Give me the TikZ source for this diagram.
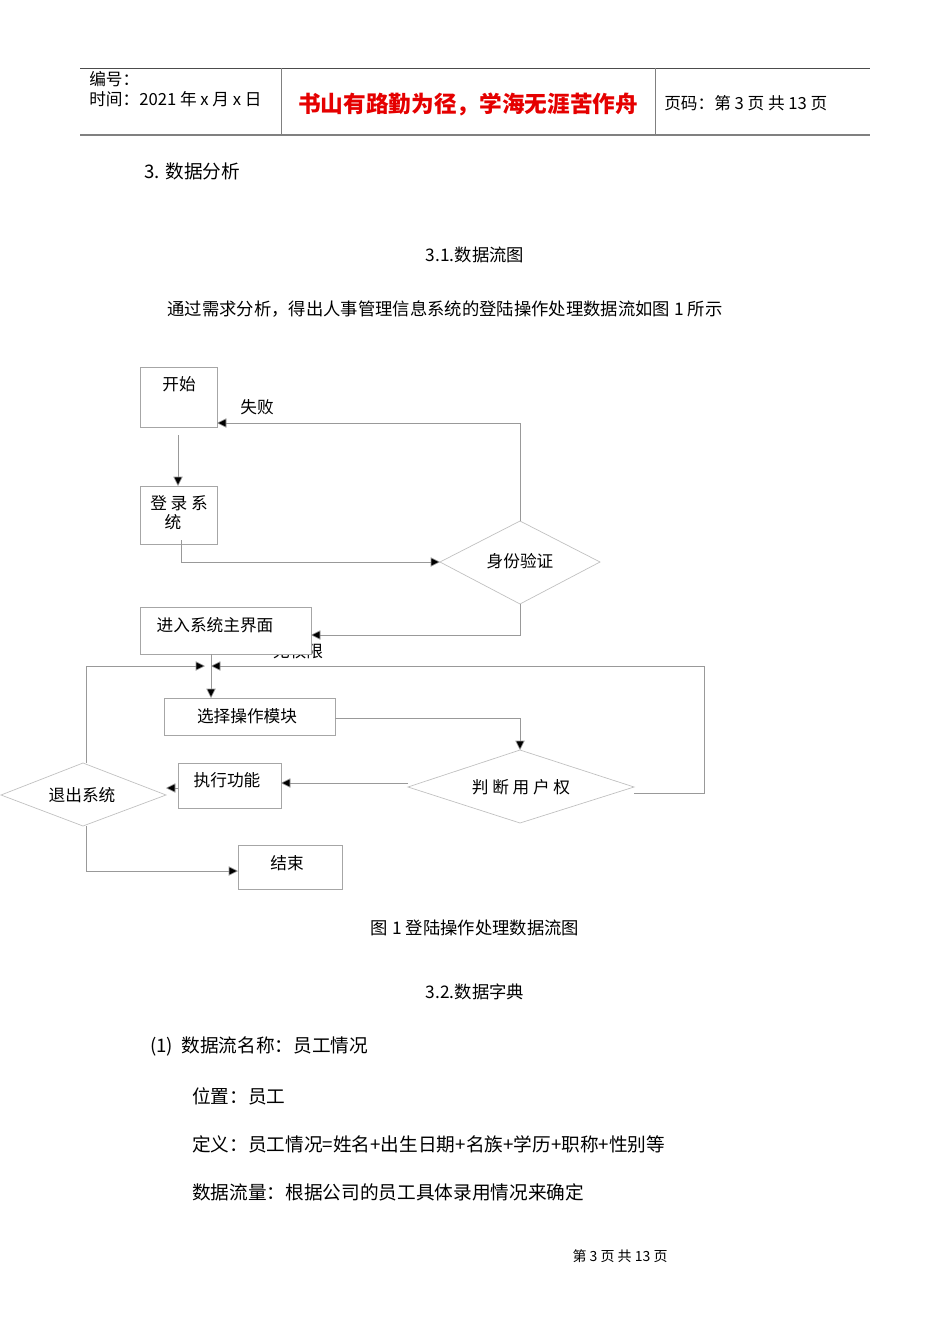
\documentclass[tikz,border=0pt]{standalone}
\usepackage{fontspec}
\setmainfont{Noto Sans CJK SC}
\usetikzlibrary{arrows.meta}
\begin{document}
\begin{tikzpicture}[x=0.75pt,y=-0.75pt,
  box/.style={draw=black!35,fill=white,line width=0.6pt},
  dia/.style={draw=black!25,fill=white,line width=0.5pt},
  con/.style={draw=black!40,line width=0.5pt},
  arr/.style={con,-{Triangle[length=7pt,width=7pt,fill=black]}},
  lbl/.style={font=\fontsize{12.5}{14}\selectfont,inner sep=0pt},
  hl/.style={font=\fontsize{12.5}{14}\selectfont,inner sep=0pt,anchor=west},
  sub/.style={font=\fontsize{13}{15}\selectfont,inner sep=0pt},
  txt/.style={font=\fontsize{14}{16}\selectfont,inner sep=0pt,anchor=west}]
\useasboundingbox[fill=white] (0,0) rectangle (950,1344);
% header
\draw[black!70,line width=0.6pt] (80,68) -- (870,68);
\draw[black!50,line width=1.2pt] (80,135) -- (870,135);
\draw[black!50,line width=0.5pt] (281,68) -- (281,135) (655,68) -- (655,135);
\node[hl] (h1) at (89,79) {编号：};
\node[hl] (h2) at (89,99) {时间：2021 年 x 月 x 日};
\node[font=\fontsize{17}{19}\selectfont\bfseries,text=red!90!black,inner sep=0pt] (h3) at (468,104) {书山有路勤为径，学海无涯苦作舟};
\node[hl] (h4) at (664,103) {页码：第 3 页 共 13 页};
% texts
\node[txt] (t1) at (144,171) {3. 数据分析};
\node[sub] (t2) at (475,255) {3.1.数据流图};
\node[sub] (t3) at (445,309) {通过需求分析，得出人事管理信息系统的登陆操作处理数据流如图 1 所示};
\node[sub] (t4) at (475,928) {图 1 登陆操作处理数据流图};
\node[sub] (t5) at (475,992) {3.2.数据字典};
\node[txt] (d1) at (150,1046) {(1)\ \ 数据流名称：员工情况};
\node[txt] (d2) at (192,1096) {位置：员工};
\node[txt] (d3) at (192,1144) {定义：员工情况=姓名+出生日期+名族+学历+职称+性别等};
\node[txt] (d4) at (192,1192) {数据流量：根据公司的员工具体录用情况来确定};
\node[font=\fontsize{10.5}{12}\selectfont,inner sep=0pt] (ft) at (620,1256) {第\ 3\ 页\ 共\ 13\ 页};
% flowchart labels under boxes
\node[lbl] (nq) at (298,651) {无权限};
% shapes
\draw[box] (140,367) rectangle (217,427); \node[lbl] (start) at (179,384) {开始};
\coordinate (startR) at (217,423); \coordinate (startB) at (178,435);
\draw[box] (140,486) rectangle (217,544);
\node[lbl] (login) at (179,503) {登\ 录\ 系};
\node[lbl] (login2) at (173,522) {统};
\coordinate (loginT) at (178,486); \coordinate (loginB) at (181,540);
\draw[dia] (440,562) -- (520,521) -- (600,562) -- (520,604) -- cycle;
\node[lbl] (auth) at (520,561) {身份验证};
\coordinate (authL) at (440,562); \coordinate (authT) at (520,521); \coordinate (authB) at (520,604);
\draw[box] (140,607) rectangle (311,654);
\node[lbl] (main) at (215,625) {进入系统主界面};
\coordinate (mainR) at (311,635); \coordinate (mainB) at (211,654);
\draw[box] (164,698) rectangle (335,735);
\node[lbl] (sel) at (247,716) {选择操作模块};
\coordinate (selT) at (211,698); \coordinate (selR) at (335,718);
\draw[dia] (408,787) -- (520,750) -- (634,787) -- (520,823) -- cycle;
\node[lbl] (judge) at (521,787) {判\ 断\ 用\ 户\ 权};
\coordinate (judT) at (520,750); \coordinate (judR) at (634,793); \coordinate (judL) at (408,783);
\draw[box] (178,763) rectangle (281,808);
\node[lbl] (exec) at (227,780) {执行功能};
\coordinate (execR) at (281,783); \coordinate (execL) at (178,788);
\draw[dia] (1,795) -- (83,763) -- (166,795) -- (83,826) -- cycle;
\node[lbl] (quit) at (82,795) {退出系统};
\coordinate (quitR) at (166,788); \coordinate (quitT) at (86,763); \coordinate (quitB) at (86,826);
\draw[box] (238,845) rectangle (342,889);
\node[lbl] (end) at (287,863) {结束};
\coordinate (endL) at (238,871);
\coordinate (m1) at (211,666); \coordinate (m2) at (205,666);
% connectors
\draw[arr] (startB) -- (loginT);
\draw[arr] (loginB) |- (authL);
\draw[arr] (authT) |- (startR);
\node[lbl] (fail) at (257,407) {失败};
\draw[arr] (authB) |- (mainR);
\draw[arr] (mainB) -- (selT);
\draw[arr] (selR) -| (judT);
\draw[arr] (judR) -- (704,793) |- (m1);
\draw[arr] (quitT) |- (m2);
\draw[arr] (judL) -- (execR);
\draw[arr] (execL) -- (quitR);
\draw[arr] (quitB) |- (endL);
\end{tikzpicture}
\end{document}
